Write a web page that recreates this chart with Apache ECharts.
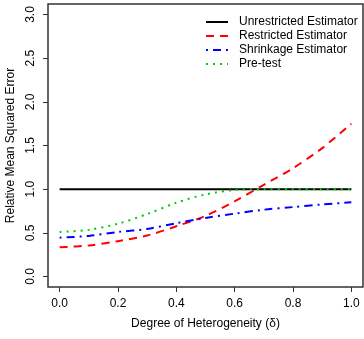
<!DOCTYPE html>
<html>
<head>
<meta charset="utf-8">
<script src="https://cdn.jsdelivr.net/npm/echarts@6/dist/echarts.min.js"></script>
<style>
  html, body { margin: 0; padding: 0; background: #fff; }
  #chart { width: 364px; height: 339px; }
</style>
</head>
<body>
<div id="chart"></div>
<script>
// degree of heterogeneity (delta)
const delta = [0, 0.1, 0.2, 0.3, 0.4, 0.5, 0.6, 0.7, 0.8, 0.9, 1.0];
const unrestricted = [1, 1, 1, 1, 1, 1, 1, 1, 1, 1, 1];
const restricted = [0.335, 0.355, 0.405, 0.47, 0.575, 0.695, 0.86, 1.05, 1.24, 1.47, 1.75];
const shrinkage = [0.445, 0.465, 0.51, 0.545, 0.61, 0.67, 0.72, 0.765, 0.795, 0.825, 0.85];
const pretest = [0.51, 0.535, 0.605, 0.715, 0.845, 0.94, 0.99, 1.0, 1.0, 1.0, 1.0];

const xTicks = [0, 0.2, 0.4, 0.6, 0.8, 1.0];
const yTicks = [0, 0.5, 1.0, 1.5, 2.0, 2.5, 3.0];

const pairs = ys => delta.map((x, i) => [x, ys[i]]);
const font = 'Liberation Sans, Arial, sans-serif';

const chart = echarts.init(document.getElementById('chart'));

// one line series
const mk = (name, ys, color, type) => ({
  name: name,
  type: 'line',
  data: pairs(ys),
  smooth: 0.3,
  symbol: 'none',
  lineStyle: { color: color, width: 2, type: type },
  itemStyle: { color: color }
});

chart.setOption({
  animation: false,
  textStyle: { fontFamily: font },
  grid: {
    left: 48, right: 1, top: 4, bottom: 52,
    outerBoundsMode: 'none', containLabel: false,
    show: true, borderColor: '#333', borderWidth: 1.5
  },
  legend: {
    left: 200, top: 11,
    orient: 'vertical',
    itemWidth: 22, itemHeight: 10, itemGap: 2,
    itemStyle: { opacity: 0 },
    textStyle: { fontSize: 12, color: '#000', fontFamily: font, padding: [0, 0, 0, 6] }
  },
  xAxis: {
    type: 'value',
    min: -0.04, max: 1.04,
    name: 'Degree of Heterogeneity (δ)',
    nameLocation: 'middle', nameGap: 31,
    nameTextStyle: { fontSize: 12, color: '#000' },
    axisLine: { show: false, onZero: false },
    splitLine: { show: false },
    axisTick: { show: true, length: 5, customValues: xTicks, lineStyle: { color: '#333' } },
    axisLabel: {
      customValues: xTicks, margin: 11, fontSize: 12, color: '#000',
      formatter: v => v.toFixed(1)
    }
  },
  yAxis: {
    type: 'value',
    min: -0.12, max: 3.12,
    name: 'Relative Mean Squared Error',
    nameLocation: 'middle', nameGap: 31, nameRotate: 90,
    nameTextStyle: { fontSize: 12, color: '#000' },
    axisLine: { show: false, onZero: false },
    splitLine: { show: false },
    axisTick: { show: true, length: 5, customValues: yTicks, lineStyle: { color: '#333' } },
    axisLabel: {
      customValues: yTicks, margin: 11, fontSize: 12, color: '#000', rotate: 90,
      formatter: v => v.toFixed(1)
    }
  },
  series: [
    mk('Unrestricted Estimator', unrestricted, '#000000', 'solid'),
    mk('Restricted Estimator', restricted, '#ff0000', [8, 6]),
    mk('Shrinkage Estimator', shrinkage, '#0000ff', [2, 5, 8, 5]),
    mk('Pre-test', pretest, '#00cd00', [2, 5])
  ]
});

window.addEventListener('resize', () => chart.resize());
</script>
</body>
</html>
